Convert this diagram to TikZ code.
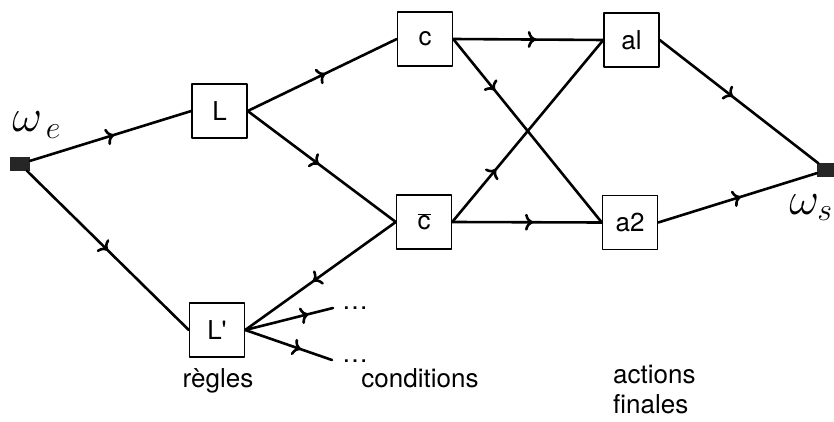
\documentclass[tikz,border=0pt]{standalone}
\usepackage{fontspec}
\setmainfont{TeX Gyre Heros}
\usetikzlibrary{arrows.meta,decorations.markings}
\begin{document}
\begin{tikzpicture}[x=1pt,y=-1pt,line join=round,line cap=round,font=\fontsize{26}{30}\selectfont,
	bloc/.style={draw,line width=1.4pt,minimum width=55pt,minimum height=54pt,inner sep=0pt},
	port/.style={fill=black!85,minimum width=20pt,minimum height=13pt,inner sep=0pt},
	omeg/.style={anchor=base west,scale=1.85,inner sep=0pt},
	midfl/.style={line width=2.6pt,postaction={decorate},decoration={markings,
		mark=at position #1 with {\arrow{To[length=8pt,width=17pt]}}}}]
			\useasboundingbox (0,0) rectangle (834,422);
			\node[port] (we) at (20,164) {};
			\node[port] (ws) at (827,170) {};
			\node[omeg] (lwe) at (12,132) {$\omega_{\,e}$};
			\node[omeg] (lws) at (789,214) {$\omega_{s}$};
			\node[bloc] (L) at (219.5,111) {L};
			\node[bloc] (Lp) at (217,330) {L\textquotesingle};
			\node[bloc] (c) at (425,39) {c};
			\node[bloc] (cb) at (424,222) {$\overline{\hbox{c}}$};
			\node[bloc] (a1) at (631.5,40) {al};
			\node[bloc] (a2) at (630,222.5) {a2};
			\coordinate (d1) at (333,308);
			\coordinate (d2) at (332,360);
			\node[anchor=base west,inner sep=0pt] (p1) at (342,309) {\dots};
			\node[anchor=base west,inner sep=0pt] (p2) at (342,362) {\dots};
			\draw[midfl=0.52] (we) -- (L.west);
			\draw[midfl=0.5] (we) -- (Lp.west);
			\draw[midfl=0.52] (L.east) -- (c.west);
			\draw[midfl=0.48] (L.east) -- (cb.west);
			\draw[midfl=0.55] (c.east) -- (a1.west);
			\draw[midfl=0.28] (c.east) -- (a2.west);
			\draw[midfl=0.29] (cb.east) -- (a1.west);
			\draw[midfl=0.54] (cb.east) -- (a2.west);
			\draw[midfl=0.46] (a1.east) -- (ws);
			\draw[midfl=0.52] (a2.east) -- (ws);
			\draw[midfl=0.55] (cb.west) -- (Lp.east);
			\draw[midfl=0.72] (Lp.east) -- (d1);
			\draw[midfl=0.64] (Lp.east) -- (d2);
			\node[anchor=base] (regles) at (218,387) {règles};
			\node[anchor=base] (cond) at (420,387) {conditions};
			\node[anchor=base west,align=left,inner sep=0pt,font=\fontsize{26}{30}\selectfont] (act) at (613,413) {actions\\finales};
\end{tikzpicture}
\end{document}
